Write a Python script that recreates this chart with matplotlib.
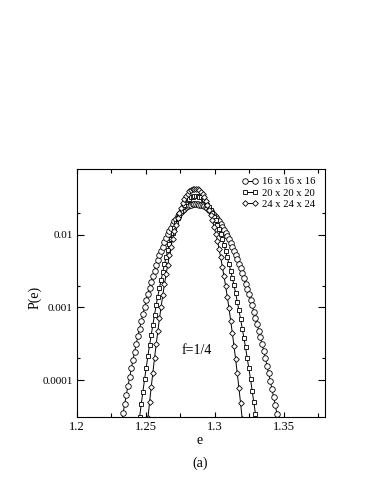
import numpy as np
import matplotlib
matplotlib.use("Agg")
from matplotlib import pyplot as plt
from matplotlib.ticker import MultipleLocator, FixedLocator, NullFormatter

# energy bins (e)
e_bins = [1.2300, 1.2312, 1.2324, 1.2336, 1.2348, 1.2360, 1.2372, 1.2384, 1.2396, 1.2408,
          1.2420, 1.2432, 1.2444, 1.2456, 1.2468, 1.2480, 1.2492, 1.2504, 1.2516, 1.2528,
          1.2540, 1.2552, 1.2564, 1.2576, 1.2588, 1.2600, 1.2612, 1.2624, 1.2636, 1.2648,
          1.2660, 1.2672, 1.2684, 1.2696, 1.2708, 1.2720, 1.2732, 1.2744, 1.2756, 1.2768,
          1.2780, 1.2792, 1.2804, 1.2816, 1.2828, 1.2840, 1.2852, 1.2864, 1.2876, 1.2888,
          1.2900, 1.2912, 1.2924, 1.2936, 1.2948, 1.2960, 1.2972, 1.2984, 1.2996, 1.3008,
          1.3020, 1.3032, 1.3044, 1.3056, 1.3068, 1.3080, 1.3092, 1.3104, 1.3116, 1.3128,
          1.3140, 1.3152, 1.3164, 1.3176, 1.3188, 1.3200, 1.3212, 1.3224, 1.3236, 1.3248,
          1.3260, 1.3272, 1.3284, 1.3296, 1.3308, 1.3320, 1.3332, 1.3344, 1.3356, 1.3368,
          1.3380, 1.3392, 1.3404, 1.3416, 1.3428, 1.3440, 1.3452, 1.3464, 1.3476, 1.3488]

# log10 P(e) for each lattice size
logp16 = [-4.73, -4.60, -4.46, -4.33, -4.20, -4.08, -3.96, -3.84, -3.72, -3.61,
          -3.50, -3.39, -3.29, -3.19, -3.09, -3.00, -2.90, -2.82, -2.73, -2.65,
          -2.57, -2.49, -2.42, -2.35, -2.28, -2.22, -2.16, -2.10, -2.04, -1.99,
          -1.94, -1.90, -1.85, -1.81, -1.78, -1.74, -1.71, -1.68, -1.66, -1.64,
          -1.62, -1.60, -1.59, -1.58, -1.57, -1.57, -1.57, -1.57, -1.58, -1.58,
          -1.59, -1.60, -1.62, -1.63, -1.65, -1.67, -1.70, -1.72, -1.75, -1.78,
          -1.81, -1.85, -1.89, -1.93, -1.97, -2.02, -2.06, -2.11, -2.16, -2.22,
          -2.28, -2.33, -2.40, -2.46, -2.53, -2.59, -2.67, -2.74, -2.81, -2.89,
          -2.97, -3.06, -3.14, -3.23, -3.32, -3.41, -3.51, -3.60, -3.70, -3.81,
          -3.91, -4.02, -4.13, -4.24, -4.35, -4.47, -4.59, -4.71]
logp20 = [-4.69, -4.51, -4.33, -4.16, -3.99, -3.83, -3.67, -3.52, -3.38, -3.24,
          -3.10, -2.97, -2.85, -2.73, -2.62, -2.51, -2.40, -2.31, -2.21, -2.13,
          -2.05, -1.97, -1.90, -1.83, -1.77, -1.72, -1.67, -1.62, -1.58, -1.55,
          -1.52, -1.50, -1.48, -1.47, -1.46, -1.46, -1.46, -1.47, -1.48, -1.50,
          -1.52, -1.55, -1.58, -1.61, -1.65, -1.70, -1.75, -1.80, -1.86, -1.92,
          -1.99, -2.06, -2.14, -2.22, -2.31, -2.40, -2.49, -2.59, -2.69, -2.80,
          -2.92, -3.04, -3.16, -3.29, -3.42, -3.55, -3.70, -3.84, -3.99, -4.15,
          -4.31, -4.47, -4.64]
logp24 = [-4.76, -4.53, -4.31, -4.10, -3.90, -3.70, -3.51, -3.33, -3.15, -2.99,
          -2.83, -2.68, -2.54, -2.41, -2.28, -2.16, -2.05, -1.95, -1.86, -1.77,
          -1.70, -1.63, -1.56, -1.51, -1.46, -1.43, -1.40, -1.38, -1.36, -1.36,
          -1.36, -1.37, -1.38, -1.41, -1.44, -1.48, -1.53, -1.59, -1.65, -1.72,
          -1.80, -1.89, -1.98, -2.08, -2.19, -2.31, -2.44, -2.57, -2.71, -2.86,
          -3.01, -3.18, -3.35, -3.53, -3.71, -3.91, -4.11, -4.32, -4.54, -4.76]

e16 = e_bins[1:99]
e20 = e_bins[12:85]
e24 = e_bins[17:77]

labels = ['16 x 16 x 16', '20 x 20 x 20', '24 x 24 x 24']

plt.rcParams['font.family'] = ['Liberation Serif', 'DejaVu Serif']
fig = plt.figure(figsize=(3.82, 4.94), dpi=100)
ax = fig.add_axes([0.2008, 0.1559, 0.65, 0.502])

series = [(e16, logp16, 'o', 4), (e20, logp20, 's', 3.4), (e24, logp24, 'D', 2.9)]
for (x, lp, m, ms), lab in zip(series, labels):
    ax.plot(x, 10 ** np.array(lp), marker=m, ms=ms, mfc='white', mec='black', mew=0.6,
            color='black', lw=0.7, label=lab)

ax.set_yscale('log')
ax.set_xlim(1.2, 1.38)
ax.set_ylim(3.09e-5, 0.0813)
ax.set_xticks([1.2, 1.25, 1.3, 1.35], ['1.2', '1.25', '1.3', '1.35'])
ax.xaxis.set_minor_locator(MultipleLocator(0.025))
ax.set_yticks([1e-4, 1e-3, 1e-2], ['0.0001', '0.001', '0.01'])
ax.yaxis.set_minor_locator(FixedLocator([2e-5, 2e-4, 2e-3, 2e-2]))
ax.yaxis.set_minor_formatter(NullFormatter())
ax.tick_params(axis='both', which='both', direction='in', top=True, right=True, width=0.8)
ax.tick_params(axis='x', which='major', length=3.5, labelsize=9, pad=3)
ax.tick_params(axis='x', which='minor', length=3)
ax.tick_params(axis='y', which='major', length=4.8, labelsize=8, pad=3)
ax.tick_params(axis='y', which='minor', length=2.5)
for s in ax.spines.values():
    s.set_linewidth(0.8)

ax.legend(loc='upper right', bbox_to_anchor=(316 / 382, 1 - 177 / 494), bbox_transform=fig.transFigure,
          frameon=False, numpoints=2, fontsize=7.7, handlelength=1.5, handletextpad=0.4,
          labelspacing=0.15, borderpad=0, borderaxespad=0)

fig.text(200 / 382, 1 - 440 / 494, 'e', ha='center', va='center', fontsize=10)
fig.text(200 / 382, 1 - 463 / 494, '(a)', ha='center', va='center', fontsize=10)
fig.text(35 / 382, 1 - 297 / 494, 'P(e)', ha='center', va='center', rotation=90, fontsize=10)
fig.text(197 / 382, 1 - 351 / 494, 'f=1/4', ha='center', va='center', fontsize=10)

fig.savefig("out.png")
